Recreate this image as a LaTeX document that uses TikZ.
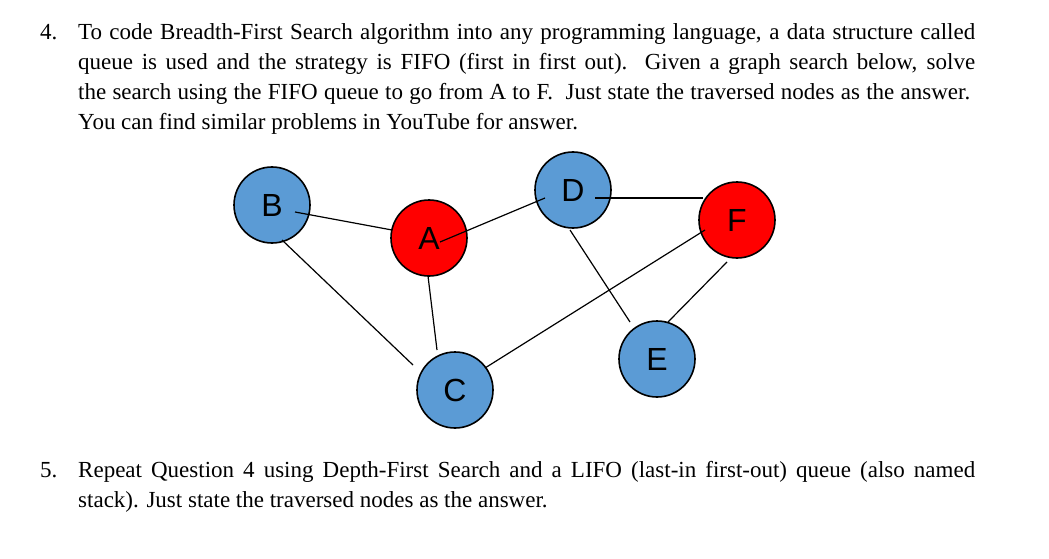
\documentclass[tikz,border=0pt]{standalone}
\usepackage{fontspec}
\setmainfont{Liberation Serif}
\newfontfamily\arial{Liberation Sans}
\definecolor{nblue}{HTML}{5B9BD5}
\begin{document}
\begin{tikzpicture}[x=1pt,y=-1pt,
  gnode/.style={circle,draw=black,line width=1.6pt,minimum size=76pt,inner sep=0pt,font=\arial\fontsize{32}{32}\selectfont},
  txt/.style={anchor=base west,inner sep=0pt,font=\fontsize{23}{26}\selectfont},
  edge/.style={line width=1.2pt}]
\useasboundingbox (0,0) rectangle (1049,559);
\node[gnode,fill=nblue] (B) at (272,205) {B};
\node[gnode,fill=red] (A) at (429,238) {A};
\node[gnode,fill=nblue] (D) at (573,190) {D};
\node[gnode,fill=red] (F) at (737,220) {F};
\node[gnode,fill=nblue] (E) at (657,359) {E};
\node[gnode,fill=nblue] (C) at (455,390) {C};
\coordinate (b1) at (295,212); \coordinate (a1) at (392,230);
\coordinate (a2) at (440,242); \coordinate (d1) at (545,198);
\coordinate (d2) at (595,198); \coordinate (f1) at (703,198);
\coordinate (d3) at (570,230); \coordinate (e1) at (630,322);
\coordinate (e2) at (668,322); \coordinate (f2) at (727,262);
\coordinate (c1) at (485,368); \coordinate (f3) at (705,230);
\coordinate (a3) at (428,276); \coordinate (c2) at (437,350);
\coordinate (b2) at (282,240); \coordinate (c3) at (413,365);
\draw[edge] (b1)--(a1); \draw[edge] (a2)--(d1); \draw[edge] (d2)--(f1);
\draw[edge] (d3)--(e1); \draw[edge] (e2)--(f2); \draw[edge] (c1)--(f3);
\draw[edge] (a3)--(c2); \draw[edge] (b2)--(c3);
\node[txt] (n4) at (40,40) {4.};
\node[txt] (l1) at (78,40) {\makebox[897pt][s]{To code Breadth-First Search algorithm into any programming language, a data structure called}};
\node[txt] (l2) at (78,70) {\makebox[897pt][s]{queue is used and the strategy is FIFO (first in first out).\ \ Given a graph search below, solve}};
\node[txt] (l3) at (78,100) {\makebox[892pt][s]{the search using the FIFO queue to go from A to F.\ \ Just state the traversed nodes as the answer.}};
\node[txt] (l4) at (78,130) {You can find similar problems in YouTube for answer.};
\node[txt] (n5) at (40,477) {5.};
\node[txt] (m1) at (78,477) {\makebox[897pt][s]{Repeat Question 4 using Depth-First Search and a LIFO (last-in first-out) queue (also named}};
\node[txt] (m2) at (78,507) {stack). Just state the traversed nodes as the answer.};
\end{tikzpicture}
\end{document}
